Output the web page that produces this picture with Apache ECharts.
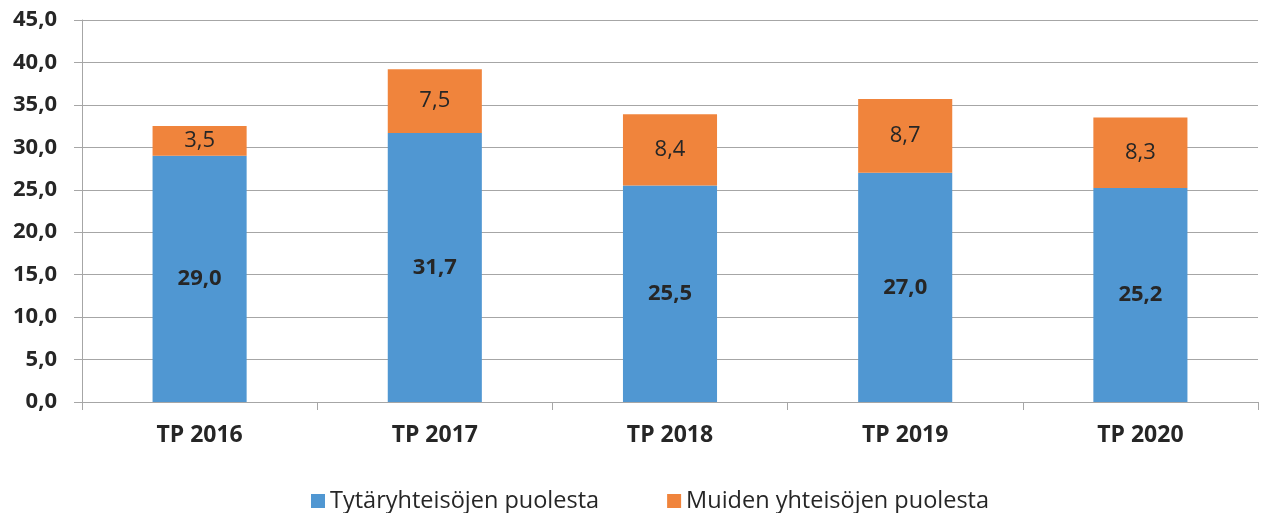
<!DOCTYPE html>
<html>
<head>
<meta charset="utf-8">
<script src="https://cdn.jsdelivr.net/npm/echarts@6/dist/echarts.min.js"></script>
<style>
  html, body { margin: 0; padding: 0; background: #fff; }
  #chart { width: 1261px; height: 513px; }
</style>
</head>
<body>
<div id="chart"></div>
<script>
// data
const categories = ['TP 2016', 'TP 2017', 'TP 2018', 'TP 2019', 'TP 2020']
const tytarValues = [29.0, 31.7, 25.5, 27.0, 25.2]
const muidenValues = [3.5, 7.5, 8.4, 8.7, 8.3]
const seriesNames = ['Tytäryhteisöjen puolesta', 'Muiden yhteisöjen puolesta']

const fmt = v => Number(v).toFixed(1).replace('.', ',')
const font = '"Open Sans", "Noto Sans", sans-serif'
const gray = '#a6a6a6'

const chart = echarts.init(document.getElementById('chart'))
chart.setOption({
  animation: false,
  textStyle: { fontFamily: font },
  grid: { left: 82, right: 3, top: 20, bottom: 111, containLabel: false },
  legend: {
    top: 484,
    left: 306,
    itemWidth: 14,
    itemHeight: 14,
    itemGap: 68,
    icon: 'rect',
    textStyle: { fontSize: 23.5, color: '#262626', fontFamily: font },
    data: seriesNames
  },
  xAxis: {
    type: 'category',
    data: categories,
    axisLine: { lineStyle: { color: gray, width: 1 } },
    axisTick: { show: true, length: 8, lineStyle: { color: gray } },
    axisLabel: { fontSize: 23, fontWeight: 'bold', color: '#262626', margin: 22 }
  },
  yAxis: {
    type: 'value',
    min: 0,
    max: 45,
    interval: 5,
    axisLine: { show: true, lineStyle: { color: gray } },
    axisTick: { show: true, length: 8, lineStyle: { color: gray } },
    splitLine: { lineStyle: { color: gray, width: 1 } },
    axisLabel: { fontSize: 22, fontWeight: 'bold', color: '#262626', margin: 25, formatter: fmt }
  },
  series: [
    {
      name: seriesNames[0],
      type: 'bar',
      stack: 'total',
      barWidth: '40%',
      data: tytarValues,
      itemStyle: { color: '#5097d2' },
      label: { show: true, position: 'inside', formatter: p => fmt(p.value), fontSize: 22, fontWeight: 'bold', color: '#262626', fontFamily: font }
    },
    {
      name: seriesNames[1],
      type: 'bar',
      stack: 'total',
      barWidth: '40%',
      data: muidenValues,
      itemStyle: { color: '#f0843c' },
      label: { show: true, position: 'inside', formatter: p => fmt(p.value), fontSize: 22, color: '#262626', fontFamily: font }
    }
  ]
})
</script>
</body>
</html>
